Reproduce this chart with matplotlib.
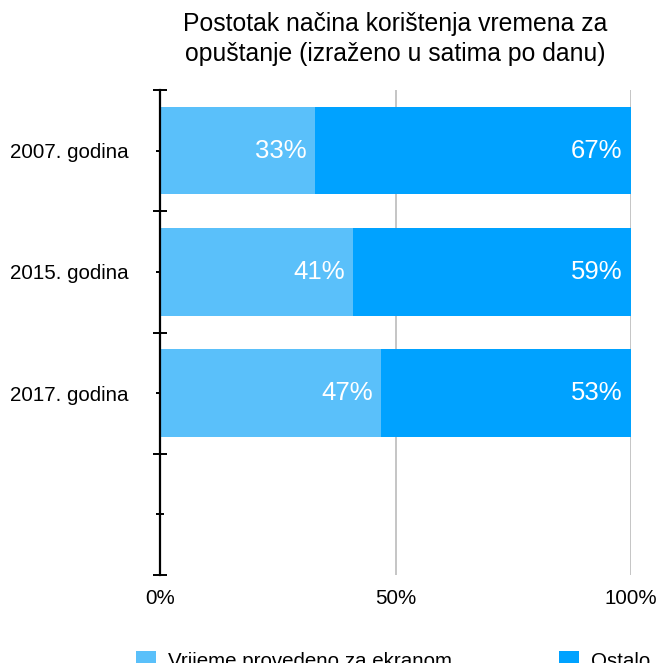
import numpy as np
import matplotlib
matplotlib.use('Agg')
import matplotlib.pyplot as plt

plt.rcParams['font.family'] = ['Liberation Sans', 'DejaVu Sans']

# data
categories = ['2007. godina', '2015. godina', '2017. godina']
screen_time = [33, 41, 47]
other_time = [67, 59, 53]
series_names = ['Vrijeme provedeno za ekranom', 'Ostalo']
x_ticks = [0, 50, 100]
x_tick_labels = ['0%', '50%', '100%']

light_blue = '#5AC0FA'
dark_blue = '#00A2FF'

fig = plt.figure(figsize=(6.61, 6.63), dpi=100)
ax = fig.add_axes([160/661, 1 - 575/663, 471/661, 485/663])

pos = np.arange(len(categories)) + 0.5
b1 = ax.barh(pos, screen_time, height=0.72, color=light_blue, label=series_names[0], zorder=2)
b2 = ax.barh(pos, other_time, left=screen_time, height=0.72, color=dark_blue, label=series_names[1], zorder=2)

# value labels, right aligned inside each segment
for p, s, o in zip(pos, screen_time, other_time):
    ax.annotate(f'{s}%', (s, p), xytext=(-6, 0), textcoords='offset points',
                ha='right', va='center', color='white', fontsize=18.5)
    ax.annotate(f'{o}%', (s + o, p), xytext=(-6, 0), textcoords='offset points',
                ha='right', va='center', color='white', fontsize=18.5)

ax.set_xlim(0, 100)
ax.set_ylim(4, 0)

# gridlines at 50 and 100
for g in x_ticks[1:]:
    ax.axvline(g, color='#c0c0c0', lw=1.3, zorder=1)

ax.set_xticks(x_ticks)
ax.set_xticklabels(x_tick_labels, fontsize=14.8)
ax.tick_params(axis='x', length=0, pad=10)

ax.set_yticks(list(pos) + [3.5])
ax.set_yticklabels(categories + [''], fontsize=14.8)
ax.set_yticks(np.arange(0, 5), minor=True)
ax.tick_params(axis='y', which='major', direction='inout', length=5.5, width=1.4, pad=20)
ax.tick_params(axis='y', which='minor', direction='inout', length=9.5, width=1.4)

for s in ['top', 'right', 'bottom']:
    ax.spines[s].set_visible(False)
ax.spines['left'].set_linewidth(1.6)
ax.spines['left'].set_zorder(3)

fig.text(395/661, 1 - 39/663, 'Postotak načina korištenja vremena za\nopuštanje (izraženo u satima po danu)',
         ha='center', va='center', fontsize=17.8, linespacing=1.3)

fig.legend(handles=[b1, b2], labels=series_names, loc='center left',
           bbox_to_anchor=(128/661, 1 - 661/663), ncol=2, frameon=False,
           fontsize=14.8, handlelength=0.95, handleheight=0.95, handletextpad=0.6,
           columnspacing=5.2, borderaxespad=0)

fig.savefig('out.png', dpi=100)
